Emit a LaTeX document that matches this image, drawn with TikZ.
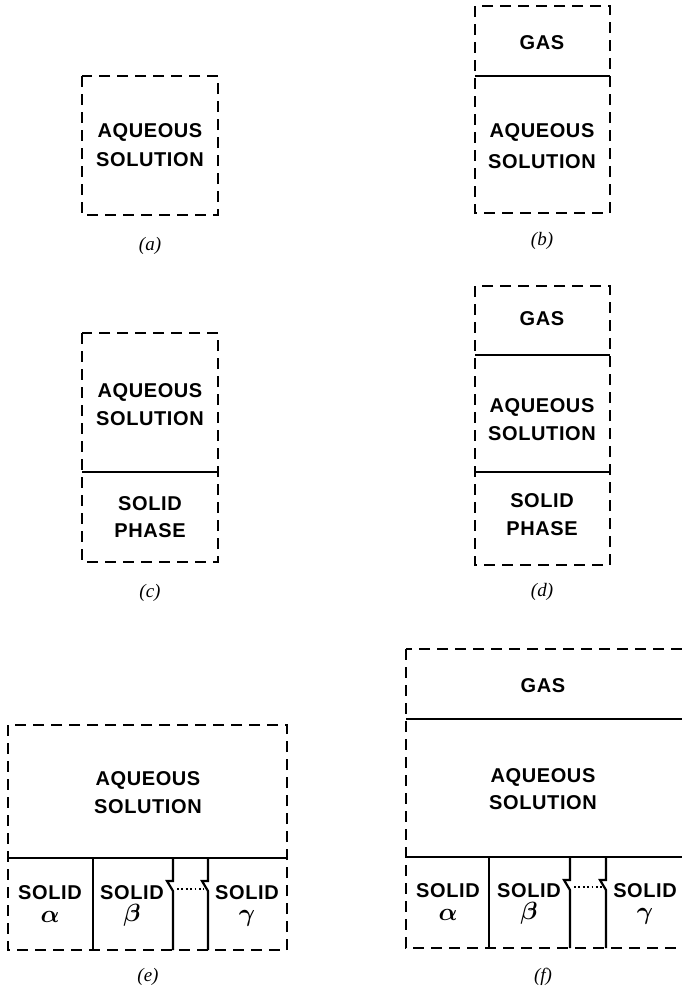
\documentclass[tikz,border=0pt]{standalone}
\usepackage{fontspec}
\setmainfont{Liberation Serif}
\newfontfamily\lettering[LetterSpace=3]{Liberation Sans}
\begin{document}
\begin{tikzpicture}[x=1pt,y=-1pt,
  txt/.style={font=\lettering\bfseries\fontsize{20}{20}\selectfont, inner sep=0pt, text height=14.5pt, text depth=0pt, anchor=center},
  grk/.style={font=\fontsize{23}{23}\selectfont\boldmath, inner sep=0pt, anchor=center},
  lab/.style={font=\itshape\fontsize{19}{19}\selectfont, inner sep=0pt, anchor=center},
  dbox/.style={line width=2.6pt, dash pattern=on 11pt off 7pt},
  sline/.style={line width=2.2pt},
  dots/.style={line width=1.8pt, dash pattern=on 1.8pt off 2.6pt}]
\useasboundingbox (0,0) rectangle (682,993);

% ---------- (a)
\draw[dbox] (82,76) rectangle (218,215);
\node[txt] (aaq) at (150,130) {AQUEOUS};
\node[txt] (aso) at (150,159) {SOLUTION};
\node[lab] (alab) at (150,246) {(a)};

% ---------- (b)
\draw[dbox] (475,6) rectangle (610,213);
\draw[sline] (475,76) -- (610,76);
\node[txt] (bgas) at (542,42) {GAS};
\node[txt] (baq) at (542,130) {AQUEOUS};
\node[txt] (bso) at (542,161) {SOLUTION};
\node[lab] (blab) at (542,241) {(b)};

% ---------- (c)
\draw[dbox] (82,333) rectangle (218,562);
\draw[sline] (82,472) -- (218,472);
\node[txt] (caq) at (150,390) {AQUEOUS};
\node[txt] (cso) at (150,418) {SOLUTION};
\node[txt] (csd) at (150,503) {SOLID};
\node[txt] (cph) at (150,530) {PHASE};
\node[lab] (clab) at (150,593) {(c)};

% ---------- (d)
\draw[dbox] (475,286) rectangle (610,565);
\draw[sline] (475,355) -- (610,355);
\draw[sline] (475,472) -- (610,472);
\node[txt] (dgas) at (542,318) {GAS};
\node[txt] (daq) at (542,405) {AQUEOUS};
\node[txt] (dso) at (542,433) {SOLUTION};
\node[txt] (dsd) at (542,500) {SOLID};
\node[txt] (dph) at (542,528) {PHASE};
\node[lab] (dlab) at (542,592) {(d)};

% ---------- (e)
\draw[dbox] (8,725) rectangle (287,950);
\draw[sline] (8,858) -- (287,858);
\draw[sline] (93,858) -- (93,950);
\draw[sline] (173,858) -- (173,881) -- (167,881) -- (173,891) -- (173,950);
\draw[sline] (208,858) -- (208,881) -- (202,881) -- (208,891) -- (208,950);
\draw[dots] (177,889) -- (204,889);
\node[txt] (eaq) at (148,778) {AQUEOUS};
\node[txt] (eso) at (148,806) {SOLUTION};
\node[txt] (esa) at (50,892) {SOLID};
\node[txt] (esb) at (132,892) {SOLID};
\node[txt] (esg) at (247,892) {SOLID};
\node[grk] (ea) at (50,917) {$\alpha$};
\node[grk] (eb) at (132,915) {$\beta$};
\node[grk] (eg) at (247,918) {$\gamma$};
\node[lab] (elab) at (148,977) {(e)};

% ---------- (f)
\draw[dbox] (406,649) rectangle (686,948);
\draw[sline] (406,719) -- (686,719);
\draw[sline] (406,857) -- (686,857);
\draw[sline] (489,857) -- (489,948);
\draw[sline] (570,857) -- (570,880) -- (564,880) -- (570,890) -- (570,948);
\draw[sline] (606,857) -- (606,880) -- (600,880) -- (606,890) -- (606,948);
\draw[dots] (574,887) -- (602,887);
\node[txt] (fgas) at (543,685) {GAS};
\node[txt] (faq) at (543,775) {AQUEOUS};
\node[txt] (fso) at (543,802) {SOLUTION};
\node[txt] (fsa) at (448,890) {SOLID};
\node[txt] (fsb) at (529,890) {SOLID};
\node[txt] (fsg) at (645,890) {SOLID};
\node[grk] (fa) at (448,915) {$\alpha$};
\node[grk] (fb) at (529,913) {$\beta$};
\node[grk] (fg) at (645,916) {$\gamma$};
\node[lab] (flab) at (543,977) {(f)};
\end{tikzpicture}
\end{document}
